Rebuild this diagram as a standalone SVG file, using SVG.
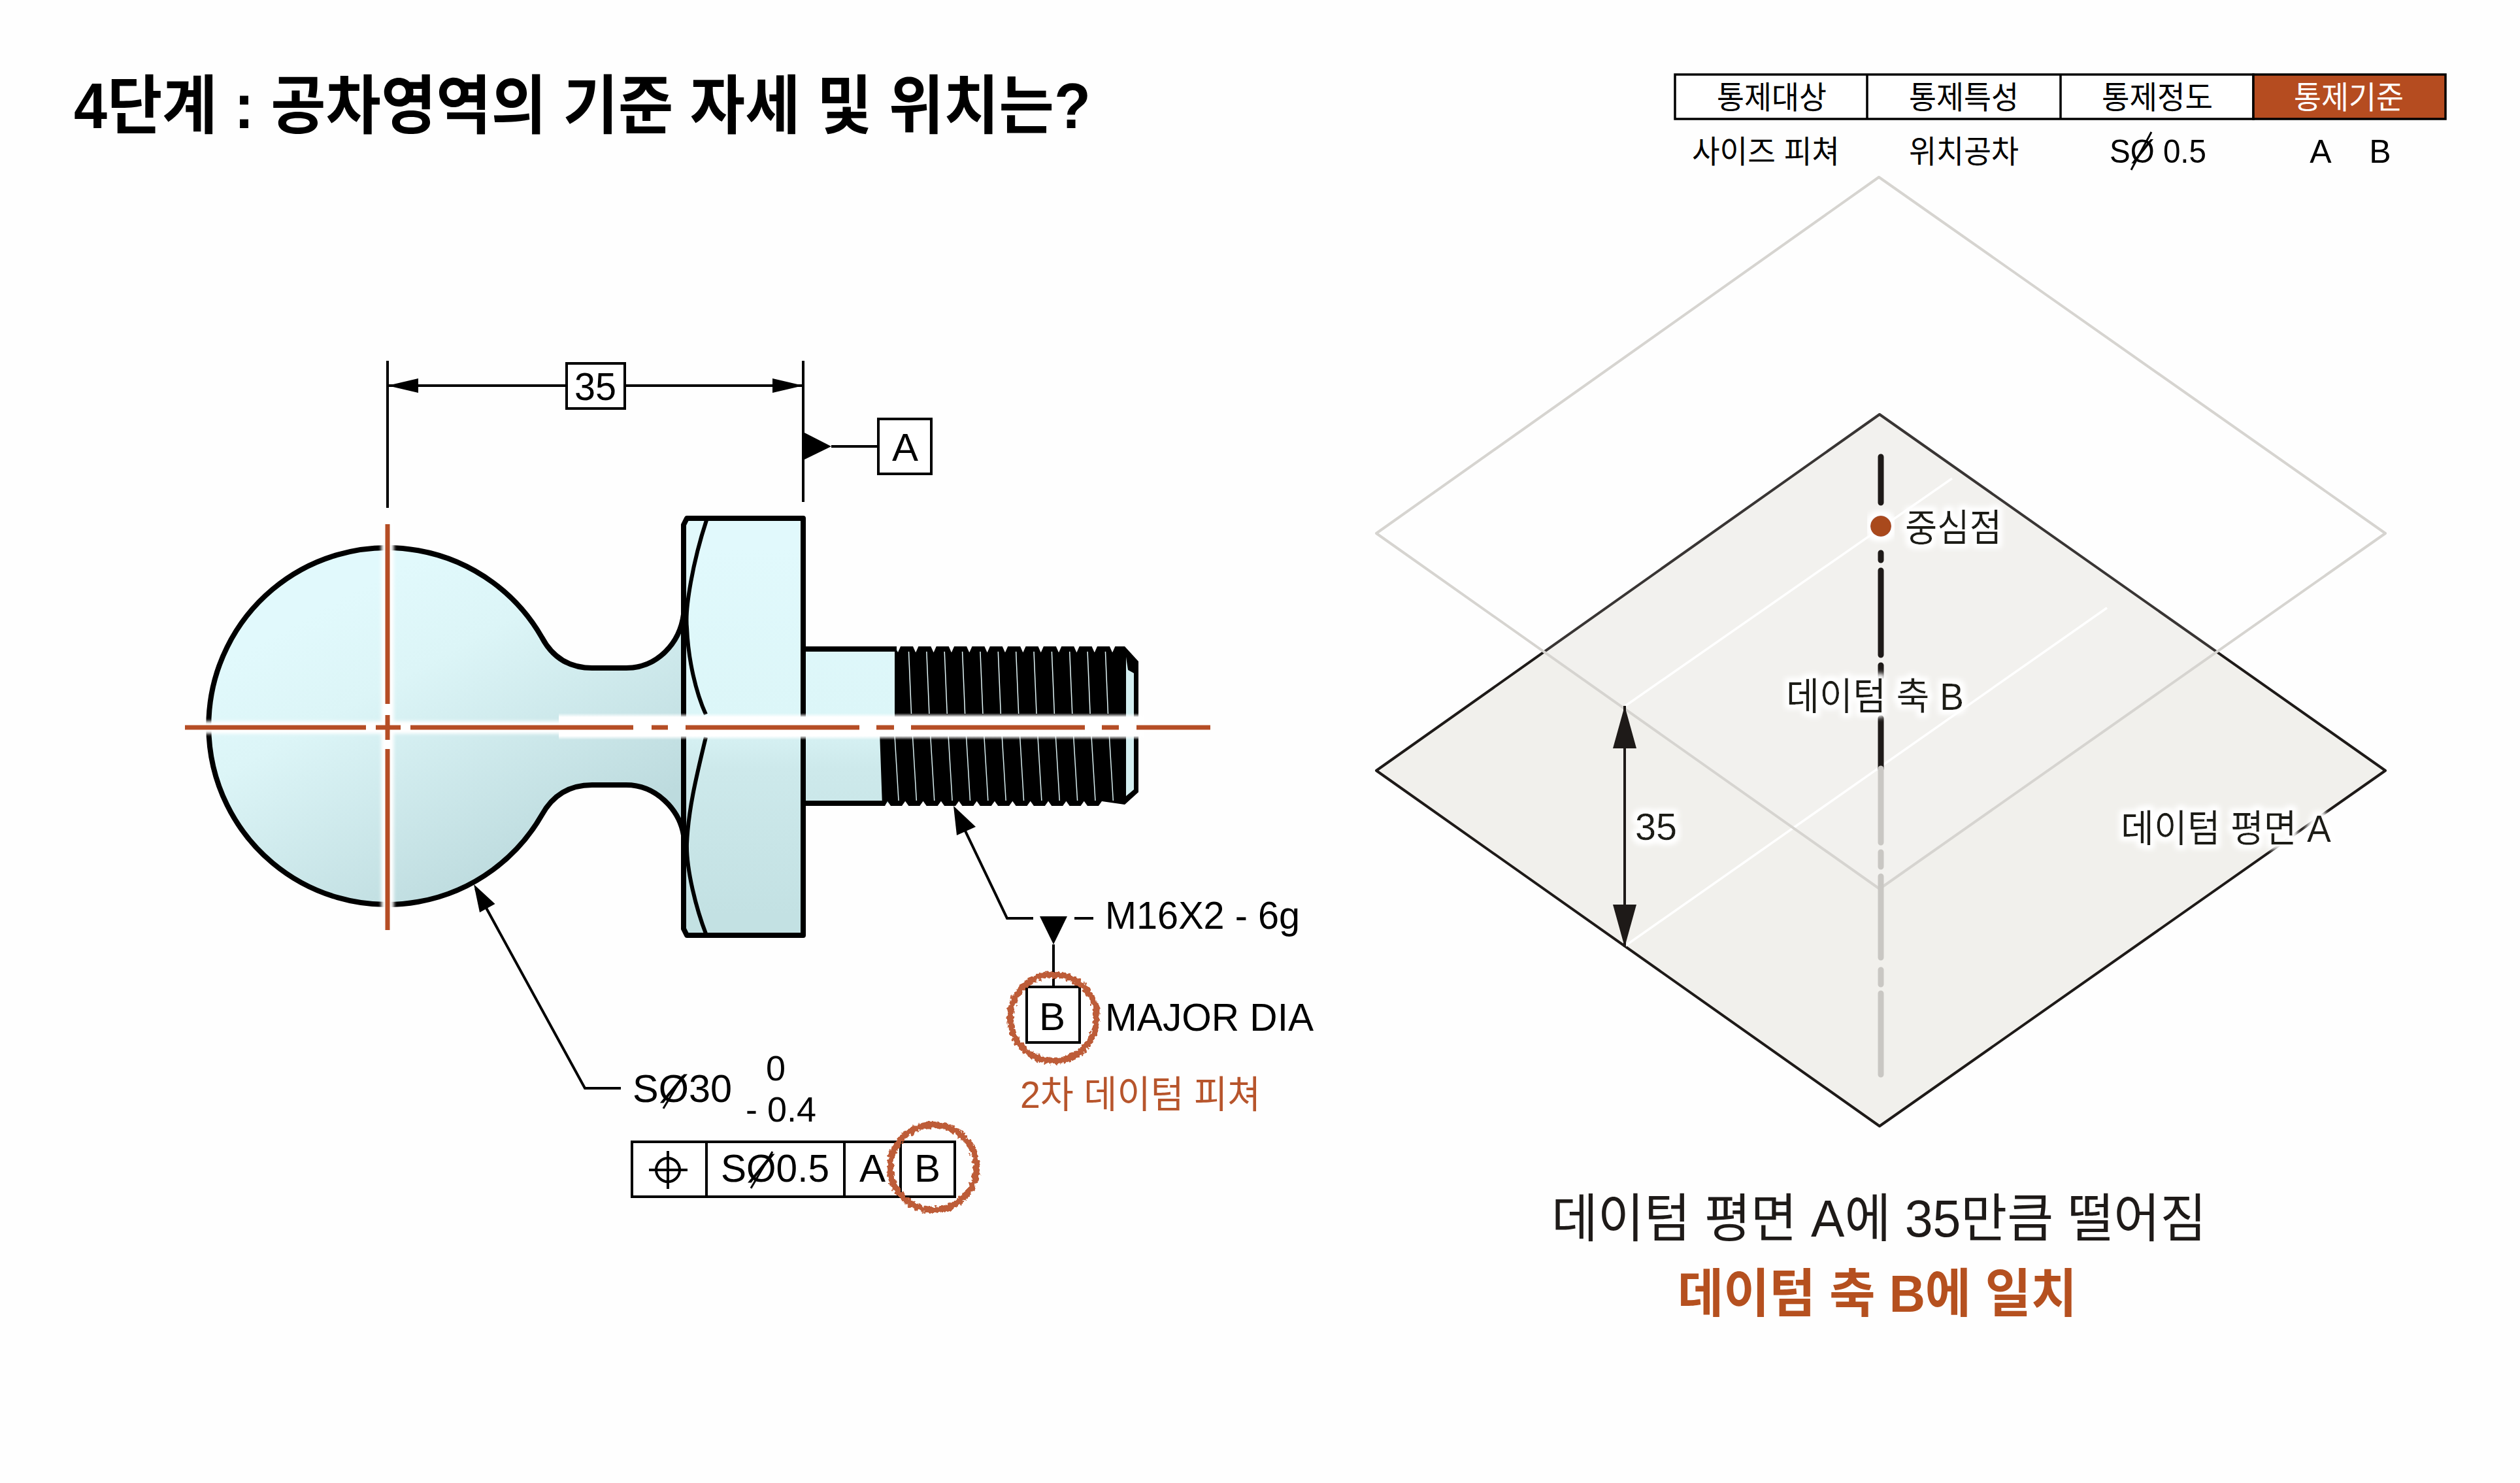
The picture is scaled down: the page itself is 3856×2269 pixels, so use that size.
<svg xmlns="http://www.w3.org/2000/svg" width="3856" height="2269" viewBox="0 0 3856 2269">
<defs>
<style>
text{font-family:"Liberation Sans","Noto Sans CJK KR",sans-serif;fill:#000}
.k{font-size:48px}
.r2{font-size:50px}
.d{font-size:60px}
.p{font-size:58px;fill:#1e1a18}
.ln{stroke:#000;stroke-width:4;fill:none}
.ow{stroke:#000;stroke-width:8;stroke-linejoin:round;fill:none}
.cl{stroke:#b54d25;stroke-width:7;fill:none}
.ax{stroke-width:9;stroke-linecap:round;fill:none}
.ring{fill:none;stroke:#bd5c37;stroke-width:10;filter:url(#rough)}
.slash{stroke:#000;stroke-width:3}
</style>
<linearGradient id="gh" gradientUnits="userSpaceOnUse" x1="440" y1="960" x2="680" y2="1400"><stop offset="0" stop-color="#e1f9fc"/><stop offset=".3" stop-color="#dcf5f7"/><stop offset="1" stop-color="#bddbde"/></linearGradient>
<linearGradient id="gv" gradientUnits="userSpaceOnUse" x1="0" y1="840" x2="0" y2="1400"><stop offset="0" stop-color="#e1f9fc"/><stop offset=".45" stop-color="#dcf6f8"/><stop offset=".6" stop-color="#cde9eb"/><stop offset="1" stop-color="#c3e1e3"/></linearGradient>
<linearGradient id="band" x1="0" y1="0" x2="0" y2="1"><stop offset="0" stop-color="#fff" stop-opacity="0"/><stop offset=".15" stop-color="#fff"/><stop offset=".85" stop-color="#fff"/><stop offset="1" stop-color="#fff" stop-opacity="0"/></linearGradient>
<filter id="soft" x="-50%" y="-50%" width="200%" height="200%"><feGaussianBlur stdDeviation="2.5"/></filter>
<filter id="glow" x="-15%" y="-50%" width="130%" height="200%">
<feMorphology in="SourceAlpha" operator="dilate" radius="5" result="m"/>
<feGaussianBlur in="m" stdDeviation="4" result="b"/>
<feFlood flood-color="#fff"/><feComposite in2="b" operator="in" result="w"/>
<feMerge><feMergeNode in="w"/><feMergeNode in="w"/><feMergeNode in="SourceGraphic"/></feMerge>
</filter>
<filter id="rough" x="-20%" y="-20%" width="140%" height="140%"><feTurbulence type="fractalNoise" baseFrequency=".2" numOctaves="2" seed="4"/><feDisplacementMap in="SourceGraphic" scale="9" xChannelSelector="R" yChannelSelector="G"/></filter>
<marker id="ah" viewBox="0 0 47 24" refX="47" refY="12" markerWidth="47" markerHeight="24" markerUnits="userSpaceOnUse" orient="auto-start-reverse"><path d="M0 1L47 12L0 23Z" fill="#000"/></marker>
<marker id="ah2" viewBox="0 0 65 36" refX="65" refY="18" markerWidth="65" markerHeight="36" markerUnits="userSpaceOnUse" orient="auto-start-reverse"><path d="M0 0L65 18L0 36Z" fill="#1e1a18"/></marker>
</defs>
<rect width="3856" height="2269" fill="#fefefe"/>

<g id="title"><text x="113" y="196" font-size="98" font-weight="700" textLength="1556" lengthAdjust="spacingAndGlyphs">4단계 : 공차영역의 기준 자세 및 위치는?</text></g>

<g id="control-table">
<rect x="2563" y="114" width="885" height="68" fill="#fff" stroke="#000" stroke-width="3.500"/>
<rect x="3448" y="114" width="294" height="68" fill="#b54c20" stroke="#000" stroke-width="3.500"/>
<path d="M2857 114V182M3153 114V182" stroke="#000" stroke-width="3.500"/>
<text class="k" x="2627" y="166" textLength="168" lengthAdjust="spacingAndGlyphs">통제대상</text>
<text class="k" x="2921" y="166" textLength="168" lengthAdjust="spacingAndGlyphs">통제특성</text>
<text class="k" x="3216" y="166" textLength="170" lengthAdjust="spacingAndGlyphs">통제정도</text>
<text class="k" x="3510" y="166" textLength="168" lengthAdjust="spacingAndGlyphs" style="fill:#fff">통제기준</text>
<text class="k" x="2589" y="249" textLength="226" lengthAdjust="spacingAndGlyphs">사이즈 피쳐</text>
<text class="k" x="2921" y="249" textLength="168" lengthAdjust="spacingAndGlyphs">위치공차</text>
<text class="r2" x="3228" y="249" textLength="148" lengthAdjust="spacingAndGlyphs">SØ 0.5</text>
<path class="slash" d="M3261 260L3292 202"/>
<text class="r2" x="3551" y="249" text-anchor="middle">A</text>
<text class="r2" x="3642" y="249" text-anchor="middle">B</text>
</g>

<g id="part">
<path d="M829 975A273 273 0 1 0 829 1247C845 1218 870 1201 906 1201H958C1005 1201 1040 1240 1046 1278V940C1040 985 1005 1022 958 1022H906C870 1022 845 1005 829 975Z" fill="url(#gh)" stroke="#000" stroke-width="8" stroke-linejoin="round"/>
<rect x="1229" y="993" width="145" height="236" fill="url(#gv)"/>
<path d="M1229 993H1372M1229 1229H1352" class="ow"/>
<path d="M1051 793H1229V1431H1051L1046 1421V803Z" class="ow" style="fill:url(#gv)"/>
<path d="M1081 796C1060 860 1048 930 1051 960C1053 1010 1065 1060 1080 1093M1080 1128C1065 1190 1053 1240 1051 1291C1050 1330 1065 1390 1081 1431" fill="none" stroke="#000" stroke-width="6"/>
<path id="thread-top" fill="#000" d="M1369 1100V993H1371L1374 998l4 -9h19l4 9h.36l4 -9h19l4 9h.36l4 -9h19l4 9h.36l4 -9h19l4 9h.36l4 -9h19l4 9h.36l4 -9h19l4 9h.36l4 -9h19l4 9h.36l4 -9h19l4 9h.36l4 -9h19l4 9h.36l4 -9h19l4 9h.36l4 -9h19l4 9h.36l4 -9h19l4 9h.36l4 -9H1721L1742 1012V1100Z"/>
<path id="thread-bottom" fill="#000" d="M1346 1120L1350 1233H1354L1358 1226l5 7h17l5 -7h.36l5 7h17l5 -7h.36l5 7h17l5 -7h.36l5 7h17l5 -7h.36l5 7h17l5 -7h.36l5 7h17l5 -7h.36l5 7h17l5 -7h.36l5 7h17l5 -7h.36l5 7h17l5 -7h.36l5 7h17l5 -7h.36l5 7h17l5 -7h.36l5 7h17l5 -7h.36L1721 1231L1742 1212V1120Z"/>
<path d="M1723 1005L1726 1025L1735 1030V1208L1723 1218Z" fill="#d3eef0"/>
<path stroke="#e2f6f8" stroke-width="1.500" fill="none" d="M1390.500 997l4 95m23.360 -95l4 95m23.360 -95l4 95m23.360 -95l4 95m23.360 -95l4 95m23.360 -95l4 95m23.360 -95l4 95m23.360 -95l4 95m23.360 -95l4 95m23.360 -95l4 95m23.360 -95l4 95m23.360 -95l4 95"/>
<path stroke="#d8eef0" stroke-width="1.500" fill="none" d="M1369 1125l6 100m21.360 -100l6 100m21.360 -100l6 100m21.360 -100l6 100m21.360 -100l6 100m21.360 -100l6 100m21.360 -100l6 100m21.360 -100l6 100m21.360 -100l6 100m21.360 -100l6 100m21.360 -100l6 100m21.360 -100l6 100m21.360 -100l6 100"/>
<rect x="855" y="1091" width="895" height="41" fill="url(#band)"/>
<path d="M310 1113H860M593 795V1425" stroke="#fff" stroke-width="19" filter="url(#soft)" fill="none"/>
</g>

<g id="centerlines">
<path class="cl" d="M283 1113H560M575 1113H613M628 1113H969M997 1113H1022M1049 1113H1315M1341 1113H1368M1394 1113H1660M1686 1113H1712M1739 1113H1852"/>
<path class="cl" d="M593 802V1077M593 1094V1132M593 1146V1423"/>
</g>

<g id="connectors">
<path class="ln" d="M593 552V777M1229 552V768"/>
<path class="ln" d="M867 590H593" marker-end="url(#ah)"/>
<path class="ln" d="M956 590H1229" marker-end="url(#ah)"/>
<path class="ln" d="M1272 683H1343"/>
<path d="M1229 661L1272 683L1229 704Z" fill="#000"/>
<path class="ln" d="M950 1665H895L728 1360"/>
<path d="M725 1353L757.500 1383L734 1396Z" fill="#000"/>
<path class="ln" d="M1673 1405H1644M1581 1405H1541L1462 1240"/>
<path d="M1459 1233L1493 1265L1464 1278Z" fill="#000"/>
<path d="M1591 1402H1633L1612 1445Z" fill="#000"/>
<path class="ln" d="M1612 1445V1510"/>
</g>

<g id="dim-35"><rect x="867" y="556" width="89" height="69" fill="#fff" stroke="#000" stroke-width="4"/><text class="d" x="911" y="612" text-anchor="middle" textLength="64" lengthAdjust="spacingAndGlyphs">35</text></g>
<g id="datum-a"><rect x="1344" y="641" width="81" height="84" fill="#fff" stroke="#000" stroke-width="4"/><text class="d" x="1385" y="705" text-anchor="middle">A</text></g>
<g id="thread-note"><text x="1691" y="1421" font-size="59" textLength="298" lengthAdjust="spacingAndGlyphs">M16X2 - 6g</text></g>
<g id="datum-b"><rect x="1571" y="1510" width="81" height="85" fill="#fff" stroke="#000" stroke-width="4"/><text class="d" x="1610" y="1576" text-anchor="middle">B</text>
<text x="1691" y="1577" font-size="60" textLength="319" lengthAdjust="spacingAndGlyphs">MAJOR DIA</text>
<ellipse class="ring" cx="1612" cy="1557" rx="66" ry="66"/>
<text x="1561" y="1695" font-size="58" textLength="368" lengthAdjust="spacingAndGlyphs" style="fill:#b7552c">2차 데이텀 피쳐</text></g>
<g id="size-note">
<text class="d" x="968" y="1686" textLength="152" lengthAdjust="spacingAndGlyphs">SØ30</text><path class="slash" d="M1015 1696L1045 1646"/>
<text x="1187" y="1653" font-size="54" text-anchor="middle">0</text>
<text x="1141" y="1716" font-size="54" textLength="108" lengthAdjust="spacingAndGlyphs">- 0.4</text>
</g>
<g id="fcf">
<rect x="967" y="1747" width="494" height="84" fill="#fff" stroke="#000" stroke-width="4"/>
<path class="ln" d="M1081 1747V1831M1292 1747V1831M1378 1747V1831"/>
<circle class="ln" cx="1022" cy="1790" r="18"/>
<path class="ln" d="M993 1790H1052M1022 1761V1819"/>
<text class="d" x="1103" y="1808" textLength="166" lengthAdjust="spacingAndGlyphs">SØ0.5</text><path class="slash" d="M1149 1818L1182 1762"/>
<text class="d" x="1335" y="1808" text-anchor="middle">A</text>
<text class="d" x="1419" y="1808" text-anchor="middle">B</text>
<ellipse class="ring" cx="1428" cy="1786" rx="66" ry="65"/>
</g>

<g id="datum-plane-a"><path d="M2876 634L3650 1179L2876 1723L2106 1179Z" fill="#f1f0ec" stroke="#1e1a18" stroke-width="4" stroke-linejoin="round"/></g>
<g id="refs"><path d="M2487 1080L2987 732M2487 1447L3224 930" stroke="#fff" stroke-width="3.500"/></g>
<g id="tolerance-plane"><path d="M2875 271L3650 816L2876 1360L2106 816Z" fill="#fff" fill-opacity=".12" stroke="#d6d4d0" stroke-width="4" stroke-linejoin="round"/></g>
<g id="datum-axis">
<path class="ax" stroke="#1e1a18" d="M2878 699V769M2878 846V857M2878 873V1002M2878 1018V1036M2878 1099V1176"/>
<path class="ax" stroke="#c9c7c3" d="M2878 1176V1289M2878 1304V1326M2878 1341V1465M2878 1484V1506M2878 1520V1644"/>
<circle cx="2878" cy="805" r="16" fill="#a9481f" filter="url(#glow)"/>
</g>
<g id="distance"><path d="M2486 1080V1449" stroke="#1e1a18" stroke-width="4" marker-start="url(#ah2)" marker-end="url(#ah2)" fill="none"/>
<text class="p" x="2502" y="1285" filter="url(#glow)" textLength="64" lengthAdjust="spacingAndGlyphs">35</text></g>
<g id="labels">
<text class="p" x="2915" y="828" textLength="148" lengthAdjust="spacingAndGlyphs" filter="url(#glow)">중심점</text>
<text class="p" x="2733" y="1086" textLength="272" lengthAdjust="spacingAndGlyphs" filter="url(#glow)">데이텀 축 B</text>
<text class="p" x="3245" y="1288" textLength="322" lengthAdjust="spacingAndGlyphs" filter="url(#glow)">데이텀 평면 A</text>
</g>
<g id="summary">
<text x="2374" y="1892" font-size="80" textLength="1002" lengthAdjust="spacingAndGlyphs" style="fill:#1e1a18">데이텀 평면 A에 35만큼 떨어짐</text>
<text x="2567" y="2007" font-size="80" font-weight="700" textLength="611" lengthAdjust="spacingAndGlyphs" style="fill:#b5501f">데이텀 축 B에 일치</text>
</g>
</svg>
